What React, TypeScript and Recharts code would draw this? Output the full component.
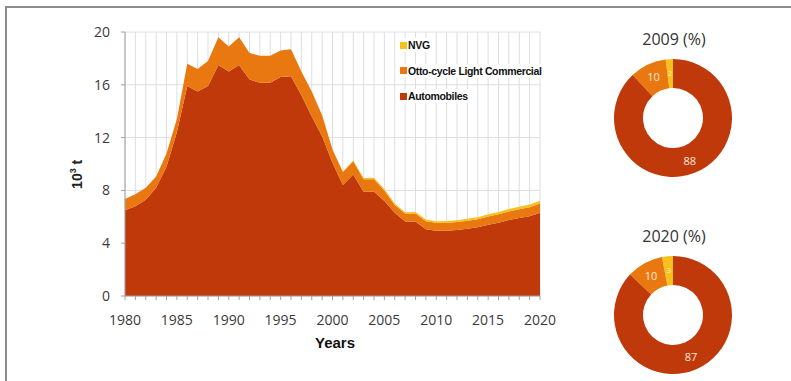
import { AreaChart, Area, XAxis, YAxis, CartesianGrid, Legend, PieChart, Pie, Cell } from 'recharts';

// emissions in 10^3 t, one value per year
const years = [
  1980, 1981, 1982, 1983, 1984, 1985, 1986, 1987, 1988, 1989,
  1990, 1991, 1992, 1993, 1994, 1995, 1996, 1997, 1998, 1999,
  2000, 2001, 2002, 2003, 2004, 2005, 2006, 2007, 2008, 2009,
  2010, 2011, 2012, 2013, 2014, 2015, 2016, 2017, 2018, 2019, 2020,
];
const automobiles = [
  6.5, 6.8, 7.3, 8.2, 9.8, 12.4, 15.9, 15.5, 15.9, 17.5,
  17.0, 17.5, 16.4, 16.15, 16.15, 16.6, 16.65, 15.2, 13.6, 12.1,
  10.1, 8.4, 9.2, 7.9, 7.9, 7.2, 6.3, 5.65, 5.65, 5.05,
  4.95, 4.95, 5.0, 5.1, 5.2, 5.4, 5.55, 5.75, 5.9, 6.05, 6.3,
];
const ottoLightCommercial = [
  0.85, 0.9, 0.9, 0.85, 1.0, 1.0, 1.7, 1.7, 1.9, 2.1,
  1.9, 2.1, 2.0, 2.05, 2.05, 2.0, 2.05, 1.8, 1.9, 1.6,
  1.0, 1.0, 1.0, 0.95, 0.95, 0.8, 0.6, 0.6, 0.6, 0.62,
  0.6, 0.6, 0.6, 0.61, 0.62, 0.63, 0.65, 0.66, 0.67, 0.68, 0.7,
];
const nvg = [
  0, 0, 0, 0, 0, 0, 0, 0, 0, 0,
  0, 0, 0, 0, 0, 0, 0, 0, 0, 0,
  0.02, 0.04, 0.06, 0.08, 0.1, 0.1, 0.1, 0.1, 0.11, 0.12,
  0.12, 0.13, 0.14, 0.14, 0.15, 0.16, 0.17, 0.18, 0.19, 0.2, 0.21,
];
const yTicks = [0, 4, 8, 12, 16, 20];

// shares in %, order: NVG, Otto-cycle Light Commercial, Automobiles
const seriesNames = ['NVG', 'Otto-cycle Light Commercial', 'Automobiles'];
const seriesColors = ['#f6c11c', '#e8780f', '#c0390b'];
const share2009 = [2, 10, 88];
const share2020 = [3, 10, 87];

const tableData = years.map((year, i) => ({
  year,
  automobiles: automobiles[i],
  otto: ottoLightCommercial[i],
  nvg: nvg[i],
}));

const tickFont = { fontSize: 14, fill: '#3a3a3a', fontFamily: 'Open Sans' };
const RADIAN = Math.PI / 180;

function LegendBox() {
  return (
    <div style={{ fontFamily: 'Liberation Sans, Arial', fontWeight: 700, fontSize: 10.5, letterSpacing: -0.35, color: '#111' }}>
      {seriesNames.map((name, i) => (
        <div key={name} style={{ display: 'flex', alignItems: 'center', height: 14, marginBottom: 11.7, background: '#fff', width: 'fit-content', paddingRight: 2 }}>
          <span style={{ width: 7, height: 7, background: seriesColors[i], marginRight: 1 }} />
          <span>{name}</span>
        </div>
      ))}
    </div>
  );
}

function sliceLabel(props: any) {
  const { cx, cy, midAngle, innerRadius, outerRadius, value, index } = props;
  const r = (innerRadius + outerRadius) / 2 + 1;
  const x = cx + r * Math.cos(-midAngle * RADIAN);
  const y = cy + r * Math.sin(-midAngle * RADIAN);
  return (
    <text x={x} y={y} fill='#fbeadf' textAnchor='middle' dominantBaseline='central'
      fontSize={index === 0 ? 8 : 11} fontFamily='Open Sans'>
      {value}
    </text>
  );
}

function ShareDonut({ title, shares, top }: { title: string; shares: number[]; top: number }) {
  const data = shares.map((v, i) => ({ name: seriesNames[i], value: v }));
  return (
    <>
      <div style={{ position: 'absolute', left: 594, top: top - 24, width: 160, textAlign: 'center', fontFamily: 'Open Sans', fontSize: 16, lineHeight: '20px', color: '#333' }}>
        {title}
      </div>
      <div style={{ position: 'absolute', left: 593, top }}>
        <PieChart width={160} height={130} margin={{ top: 0, right: 0, bottom: 0, left: 0 }}>
          <Pie data={data} dataKey='value' cx={80} cy={65} innerRadius={30} outerRadius={59}
            startAngle={90} endAngle={450} stroke='none' label={sliceLabel} labelLine={false}
            isAnimationActive={false}>
            {data.map((d, i) => <Cell key={d.name} fill={seriesColors[i]} />)}
          </Pie>
        </PieChart>
      </div>
    </>
  );
}

export default function App() {
  return (
    <div style={{ position: 'absolute', left: 0, top: 0, width: 791, height: 381, background: '#fff', overflow: 'hidden' }}>
      <div style={{ position: 'absolute', left: 5, top: 6, width: 786, height: 2, background: '#8c8c8c' }} />
      <div style={{ position: 'absolute', left: 5, top: 6, width: 2, height: 375, background: '#8c8c8c' }} />

      <div style={{ position: 'absolute', left: 0, top: 0 }}>
        <AreaChart width={560} height={370} data={tableData} margin={{ top: 32, right: 20, bottom: 44, left: 85 }}>
          <CartesianGrid stroke='#dcdee2' strokeWidth={1} />
          <XAxis dataKey='year' type='number' domain={[1980, 2020]} ticks={years} interval={0}
            tickFormatter={(v) => (v % 5 === 0 ? String(v) : '')}
            tick={tickFont} tickSize={4} tickMargin={15} height={30}
            tickLine={{ stroke: '#a0a0a0' }} axisLine={{ stroke: '#a0a0a0' }} />
          <YAxis domain={[0, 20]} ticks={yTicks} width={40} tick={tickFont} tickSize={4} tickMargin={11}
            tickLine={{ stroke: '#a0a0a0' }} axisLine={{ stroke: '#a0a0a0' }} />
          <Legend layout='horizontal' verticalAlign='middle' content={LegendBox}
            wrapperStyle={{ left: 400, top: 38, width: 150, height: 80 }} />
          <Area type='linear' dataKey='automobiles' name='Automobiles' stackId='a' stroke='none'
            fill={seriesColors[2]} fillOpacity={1} isAnimationActive={false} />
          <Area type='linear' dataKey='otto' name='Otto-cycle Light Commercial' stackId='a' stroke='none'
            fill={seriesColors[1]} fillOpacity={1} isAnimationActive={false} />
          <Area type='linear' dataKey='nvg' name='NVG' stackId='a' stroke='none'
            fill={seriesColors[0]} fillOpacity={1} isAnimationActive={false} />
        </AreaChart>
      </div>

      <div style={{ position: 'absolute', left: 62, top: 166, transform: 'rotate(-90deg)', fontFamily: 'Liberation Sans, Arial', fontWeight: 700, fontSize: 14, color: '#222', whiteSpace: 'nowrap' }}>
        10<sup style={{ fontSize: 9 }}>3</sup> t
      </div>
      <div style={{ position: 'absolute', left: 305, top: 334, width: 60, textAlign: 'center', fontFamily: 'Liberation Sans, Arial', fontWeight: 700, fontSize: 15, color: '#111' }}>
        Years
      </div>

      <ShareDonut title='2009 (%)' shares={share2009} top={53} />
      <ShareDonut title='2020 (%)' shares={share2020} top={250} />
    </div>
  );
}
